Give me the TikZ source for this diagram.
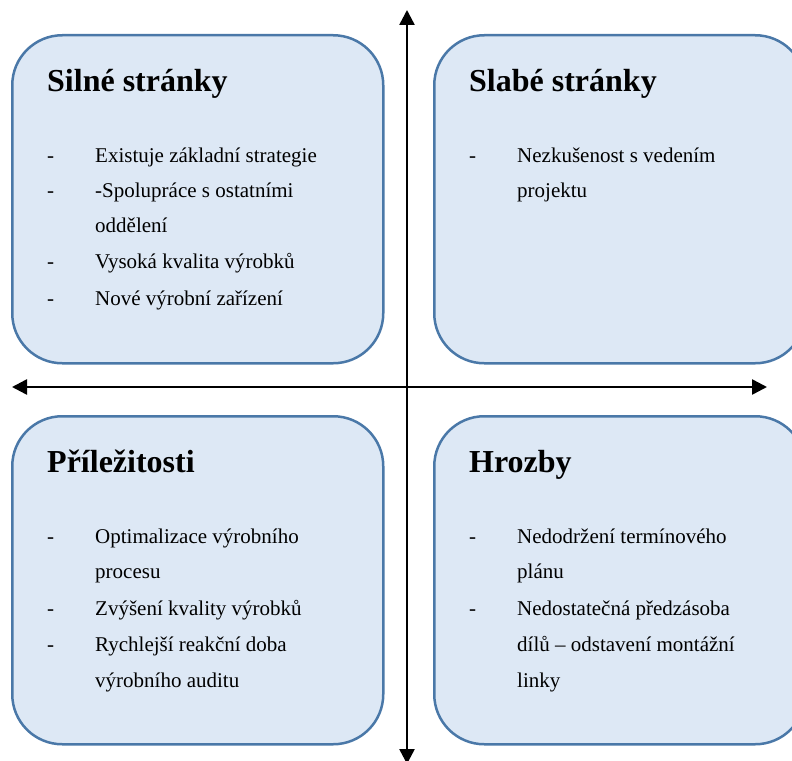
\documentclass[tikz,border=0pt]{standalone}
\usepackage{fontspec}
\setmainfont{Liberation Serif}
\usetikzlibrary{arrows.meta}
\definecolor{boxfill}{HTML}{DDE8F5}
\definecolor{boxline}{HTML}{4A78A8}
\begin{document}
\begin{tikzpicture}[x=1pt,y=-1pt,
  quad/.style={draw=boxline,fill=boxfill,line width=2.5pt,rounded corners=50pt,
    anchor=north west,minimum width=371pt,minimum height=328pt,inner sep=0pt},
  heading/.style={anchor=base west,inner sep=0pt,font=\bfseries\fontsize{32}{38}\selectfont},
  item/.style={anchor=base west,inner sep=0pt,font=\fontsize{21}{36}\selectfont},
  axis/.style={line width=2.5pt,{Triangle[length=15pt,width=15pt]}-{Triangle[length=15pt,width=15pt]}}]
\useasboundingbox (0,0) rectangle (792,760);

% four quadrants
\node[quad] (strengths) at (11,34) {};
\node[quad] (weaknesses) at (433,34) {};
\node[quad] (opportunities) at (11,415) {};
\node[quad] (threats) at (433,415) {};

% axes
\coordinate (top) at (407,10);
\coordinate (bottom) at (407,764);
\coordinate (left) at (12,387);
\coordinate (right) at (767,387);
\draw[axis] (bottom) -- (top);
\draw[axis] (left) -- (right);

% strengths
\node[heading] (sT) at (47,92) {Silné stránky};
\node[item] (s1d) at (47,162) {-};
\node[item] (s1) at (95,162) {Existuje základní strategie};
\node[item] (s2d) at (47,197) {-};
\node[item] (s2) at (95,197) {-Spolupráce s ostatními};
\node[item] (s2b) at (95,232) {oddělení};
\node[item] (s3d) at (47,268) {-};
\node[item] (s3) at (95,268) {Vysoká kvalita výrobků};
\node[item] (s4d) at (47,305) {-};
\node[item] (s4) at (95,305) {Nové výrobní zařízení};

% weaknesses
\node[heading] (wT) at (469,92) {Slabé stránky};
\node[item] (w1d) at (469,162) {-};
\node[item] (w1) at (517,162) {Nezkušenost s vedením};
\node[item] (w1b) at (517,197) {projektu};

% opportunities
\node[heading] (oT) at (47,472) {Příležitosti};
\node[item] (o1d) at (47,543) {-};
\node[item] (o1) at (95,543) {Optimalizace výrobního};
\node[item] (o1b) at (95,578) {procesu};
\node[item] (o2d) at (47,615) {-};
\node[item] (o2) at (95,615) {Zvýšení kvality výrobků};
\node[item] (o3d) at (47,651) {-};
\node[item] (o3) at (95,651) {Rychlejší reakční doba};
\node[item] (o3b) at (95,687) {výrobního auditu};

% threats
\node[heading] (tT) at (469,472) {Hrozby};
\node[item] (t1d) at (469,543) {-};
\node[item] (t1) at (517,543) {Nedodržení termínového};
\node[item] (t1b) at (517,578) {plánu};
\node[item] (t2d) at (469,615) {-};
\node[item] (t2) at (517,615) {Nedostatečná předzásoba};
\node[item] (t2b) at (517,651) {dílů – odstavení montážní};
\node[item] (t2c) at (517,687) {linky};
\end{tikzpicture}
\end{document}
